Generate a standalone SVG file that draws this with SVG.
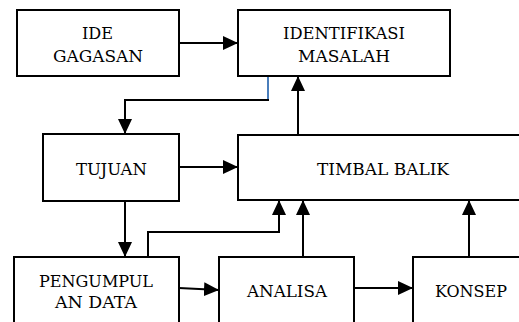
<svg xmlns="http://www.w3.org/2000/svg" width="519" height="322" viewBox="0 0 519 322">
<style>
.box{fill:#fff;stroke:#000;stroke-width:2}
.t{font-family:"DejaVu Serif","Liberation Serif",serif;font-size:16px;fill:#000;text-anchor:middle}
.c{fill:none;stroke:#000;stroke-width:2}
</style>
<defs>
<marker id="ah" markerUnits="userSpaceOnUse" markerWidth="15" markerHeight="14" refX="15" refY="7" orient="auto">
<path d="M0,0 L15,7 L0,14 Z" fill="#000"/>
</marker>
</defs>
<rect width="519" height="322" fill="#fff"/>
<g id="connectors">
<line class="c" x1="179" y1="43" x2="238" y2="43" marker-end="url(#ah)"/>
<line x1="268" y1="76" x2="268" y2="100" stroke="#4a7ebb" stroke-width="2"/>
<polyline class="c" points="269,100 125,100 125,134" marker-end="url(#ah)"/>
<line class="c" x1="179" y1="167" x2="238" y2="167" marker-end="url(#ah)"/>
<line class="c" x1="298" y1="135" x2="298" y2="76" marker-end="url(#ah)"/>
<line class="c" x1="125" y1="201" x2="125" y2="257" marker-end="url(#ah)"/>
<polyline class="c" points="148,257 148,232 279,232 279,200" marker-end="url(#ah)"/>
<line class="c" x1="179" y1="288" x2="219" y2="290" marker-end="url(#ah)"/>
<line class="c" x1="303" y1="257" x2="303" y2="200" marker-end="url(#ah)"/>
<line class="c" x1="354" y1="288" x2="413" y2="288" marker-end="url(#ah)"/>
<line class="c" x1="469" y1="257" x2="469" y2="200" marker-end="url(#ah)"/>
</g>
<g id="ide">
<rect class="box" x="17" y="10" width="162" height="66"/>
<text class="t" x="97.5" y="39" textLength="31" lengthAdjust="spacingAndGlyphs">IDE</text>
<text class="t" x="98" y="61.5" textLength="90" lengthAdjust="spacingAndGlyphs">GAGASAN</text>
</g>
<g id="identifikasi">
<rect class="box" x="238" y="10" width="212" height="66"/>
<text class="t" x="344" y="39" textLength="122" lengthAdjust="spacingAndGlyphs">IDENTIFIKASI</text>
<text class="t" x="344" y="61.5" textLength="92" lengthAdjust="spacingAndGlyphs">MASALAH</text>
</g>
<g id="tujuan">
<rect class="box" x="43" y="134" width="136" height="67"/>
<text class="t" x="111.5" y="175" textLength="71" lengthAdjust="spacingAndGlyphs">TUJUAN</text>
</g>
<g id="timbal">
<rect class="box" x="238" y="135" width="300" height="65"/>
<text class="t" x="383" y="175" textLength="132" lengthAdjust="spacingAndGlyphs">TIMBAL BALIK</text>
</g>
<g id="pengumpulan">
<rect class="box" x="14" y="257" width="165" height="80"/>
<text class="t" x="96" y="287" textLength="114" lengthAdjust="spacingAndGlyphs">PENGUMPUL</text>
<text class="t" x="96" y="308" textLength="82" lengthAdjust="spacingAndGlyphs">AN DATA</text>
</g>
<g id="analisa">
<rect class="box" x="219" y="257" width="135" height="80"/>
<text class="t" x="287" y="297" textLength="80" lengthAdjust="spacingAndGlyphs">ANALISA</text>
</g>
<g id="konsep">
<rect class="box" x="413" y="257" width="130" height="80"/>
<text class="t" x="471" y="297" textLength="72" lengthAdjust="spacingAndGlyphs">KONSEP</text>
</g>
</svg>
